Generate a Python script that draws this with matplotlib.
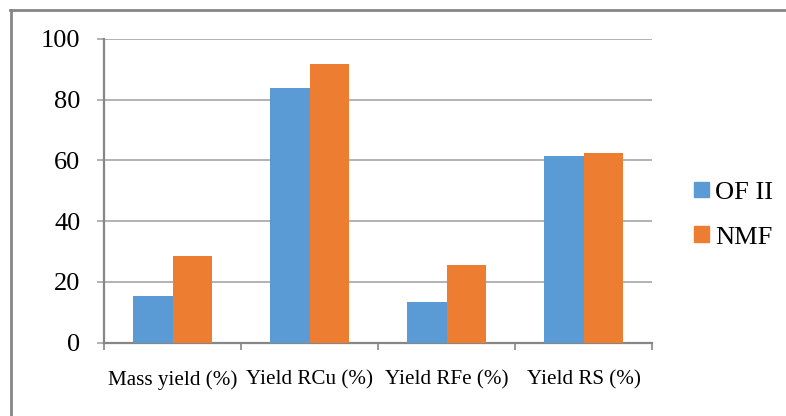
import matplotlib.pyplot as plt
import numpy as np
from matplotlib.lines import Line2D
from matplotlib.patches import Patch

# données
categories = ["Mass yield (%)", "Yield RCu (%)", "Yield RFe (%)", "Yield RS (%)"]
of_ii = [15.5, 83.9, 13.3, 61.3]
nmf = [28.6, 91.6, 25.6, 62.5]
series_names = ["OF II", "NMF"]

plt.rcParams['font.family'] = ['Liberation Serif', 'DejaVu Serif']

blue = '#5B9BD5'
orange = '#ED7D31'
grid_col = '#A6A6A6'
axis_col = '#868686'

fig = plt.figure(figsize=(7.86, 4.16), dpi=100)
ax = fig.add_axes([104 / 786, 1 - 342.7 / 416, 548 / 786, 304 / 416])

x = np.arange(len(categories))
w = 1 / 3.5
ax.bar(x - w / 2, of_ii, width=w, color=blue, zorder=3)
ax.bar(x + w / 2, nmf, width=w, color=orange, zorder=3)

ax.set_xlim(-0.5, len(categories) - 0.5)
ax.set_ylim(0, 100)
ax.set_yticks(np.arange(0, 101, 20))

# graduations de l'axe x aux frontières des catégories, étiquettes au centre
ax.set_xticks(np.arange(-0.5, len(categories), 1))
ax.set_xticklabels([])
ax.set_xticks(x, minor=True)
ax.set_xticklabels(categories, minor=True, fontsize=15.2)
ax.tick_params(axis='x', which='major', length=5, width=1.2, color=axis_col)
ax.tick_params(axis='x', which='minor', length=0, pad=20)
ax.tick_params(axis='y', length=5, width=1.2, color=grid_col, pad=12, labelsize=19)

ax.yaxis.grid(True, color=grid_col, linewidth=1.2, zorder=0)
for s in ['top', 'right']:
    ax.spines[s].set_visible(False)
ax.spines['left'].set_color(axis_col)
ax.spines['bottom'].set_color(axis_col)
ax.spines['left'].set_linewidth(1.6)
ax.spines['bottom'].set_linewidth(1.6)

# légende
handles = [Patch(color=blue), Patch(color=orange)]
fig.legend(handles, series_names, loc='center left',
           bbox_to_anchor=(694 / 786, 1 - 215 / 416), frameon=False,
           fontsize=19, handlelength=0.55, handleheight=0.55,
           handletextpad=0.25, labelspacing=0.85, borderpad=0, borderaxespad=0)

# cadre (seulement haut et gauche visibles)
fig.add_artist(Line2D([10 / 786, 1], [1 - 10 / 416] * 2, color=axis_col, lw=2))
fig.add_artist(Line2D([11 / 786] * 2, [0, 1 - 10 / 416], color=axis_col, lw=2))

fig.savefig("out.png", dpi=100)
